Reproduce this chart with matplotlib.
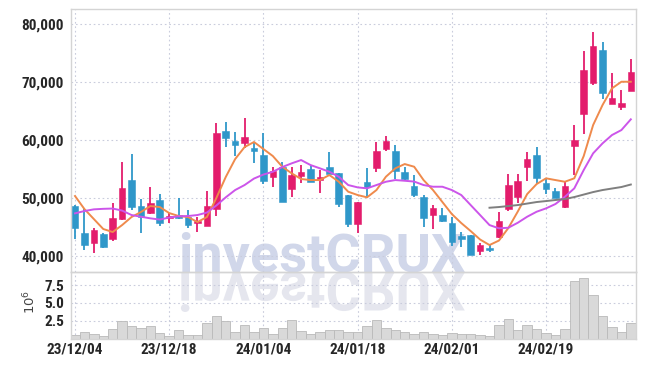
import numpy as np
import matplotlib
matplotlib.use('Agg')
import matplotlib.pyplot as plt
from matplotlib import font_manager as fm
from matplotlib.textpath import TextPath
from matplotlib.patches import PathPatch
from matplotlib.font_manager import FontProperties
from matplotlib.transforms import Affine2D

# daily candles, 23/12/04 .. 24/03/04
opens = [48620, 44020, 42190, 43790, 42880, 46380, 53100, 48620, 47470, 49660,
         46500, 47020, 46670, 45780, 45230, 48160, 61550, 59830, 59430, 58620,
         57410, 53670, 55400, 51500, 53850, 55000, 53100, 55290, 54370, 50520,
         45460, 52760, 55230, 58450, 58100, 54540, 52070, 50120, 47020, 47070,
         45640, 43450, 43620, 40920, 41440, 43330, 48050, 50120, 55290, 57410,
         52530, 51210, 48500, 59020, 64430, 69780, 75520, 66260, 65740, 68500]
highs = [48800, 48280, 44780, 43970, 49090, 56160, 57590, 49780, 51950, 50690,
         47360, 49950, 47930, 46670, 51210, 62880, 63160, 61430, 63740, 59710,
         61160, 55400, 56260, 55290, 55690, 55630, 54830, 57880, 54400, 50520,
         49300, 55120, 59600, 60690, 59140, 55400, 53970, 50520, 48790, 48220,
         46670, 44190, 43620, 42300, 41900, 47640, 54090, 54090, 57880, 58740,
         53220, 51670, 52810, 62530, 75340, 78570, 76840, 71600, 68620, 73910]
lows = [42930, 41040, 40470, 41380, 42640, 46210, 47930, 43910, 47240, 45230,
        45640, 46330, 44780, 44090, 45170, 46900, 58740, 57240, 58570, 55980,
        52410, 51850, 49300, 50120, 52640, 52700, 50910, 54100, 48400, 44950,
        43910, 49950, 54430, 58100, 53220, 53100, 50120, 45060, 44600, 45910,
        41720, 41600, 40170, 40170, 40750, 43050, 47810, 49190, 52990, 52410,
        50690, 49950, 48220, 53970, 61040, 69480, 67070, 66210, 65170, 68400]
closes = [44830, 41900, 44480, 41500, 46550, 51670, 48400, 46670, 49090, 45640,
          46900, 46610, 45340, 45860, 48620, 61160, 60400, 59190, 60520, 58160,
          52930, 54660, 49370, 53970, 54480, 52810, 53670, 54140, 48970, 45520,
          49260, 51950, 58100, 59830, 54710, 53220, 50520, 46500, 48220, 46090,
          42470, 42990, 40170, 41900, 41040, 46040, 52240, 52930, 56670, 53400,
          51500, 49950, 52070, 60000, 72070, 76210, 68050, 67190, 66330, 71780]

# volume in millions
volume = [0.49, 0.87, 0.59, 0.31, 1.29, 2.46, 1.76, 1.43, 1.76, 0.73,
          0.39, 1.15, 0.45, 0.45, 2.13, 3.16, 2.46, 0.91, 1.90, 0.91,
          1.43, 0.63, 1.43, 2.60, 1.05, 0.63, 0.91, 1.15, 1.15, 0.89,
          0.91, 1.76, 2.60, 1.43, 1.19, 0.91, 0.63, 0.91, 0.63, 0.49,
          0.77, 0.63, 0.63, 0.49, 0.35, 1.85, 2.74, 1.19, 1.90, 1.33,
          0.77, 0.49, 1.33, 8.03, 8.45, 6.11, 3.16, 1.62, 0.91, 2.18]

# moving averages
ma_short = [50350, 48100, 46380, 44660, 44140, 45340, 46730, 47590, 48620, 48450,
            47410, 46900, 46730, 45860, 46730, 50000, 53620, 56720, 58790, 59660,
            58450, 57240, 55400, 54260, 53280, 53100, 53100, 53970, 52810, 51090,
            50520, 50120, 51380, 53670, 55120, 55860, 55400, 53100, 51380, 49310,
            47240, 45690, 44310, 42850, 41900, 42670, 44830, 47670, 50690, 52410,
            53400, 53100, 52810, 53400, 57240, 62590, 66040, 68910, 70050, 70050]
ma_mid = [47360, 47760, 48050, 48140, 48190, 47840, 47070, 46780, 46500, 46290,
          46640, 46850, 46900, 47070, 47500, 48710, 50120, 51380, 52240, 53360,
          54050, 54530, 55340, 55980, 56550, 55690, 55120, 54530, 53670, 52240,
          51840, 51670, 52240, 52810, 53100, 52980, 52840, 52240, 51950, 51950,
          51380, 50520, 48790, 47070, 45340, 44780, 44880, 45740, 46780, 47640,
          48220, 48970, 50220, 51670, 54830, 57710, 59430, 60860, 61720, 63570]
ma_long_start = 44
ma_long = [48330, 48450, 48620, 48790, 49050, 49310, 49480, 49660,
           49830, 50170, 50600, 51030, 51380, 51640, 51900, 52330]

tick_idx = [0, 10, 20, 30, 40, 50]
tick_labels = ['23/12/04', '23/12/18', '24/01/04', '24/01/18', '24/02/01', '24/02/19']
price_ticks = [40000, 50000, 60000, 70000, 80000]
vol_ticks = [2.5, 5.0, 7.5]

UP = '#e31c6c'
DOWN = '#2f97c9'
GRID = '#c9ccdc'
FRAME = '#d4d4d4'
TXT = '#262626'

# narrow bold font for the tick labels, whatever is installed
names = {f.name for f in fm.fontManager.ttflist}
if 'Roboto Condensed' in names:
    tick_font, tick_size = 'Roboto Condensed', 11
elif 'Liberation Sans Narrow' in names:
    tick_font, tick_size = 'Liberation Sans Narrow', 11
else:
    tick_font, tick_size = 'Roboto', 10

fig = plt.figure(figsize=(6.45, 3.66), dpi=100)
fig.patch.set_facecolor('white')
ax = fig.add_axes([71 / 645, 1 - 272 / 366, 565 / 645, 263 / 366])
axv = fig.add_axes([71 / 645, 1 - 338.5 / 366, 565 / 645, 66.5 / 366])

x = np.arange(len(opens))
o = np.array(opens)
c = np.array(closes)
colors = np.where(c >= o, UP, DOWN)

# watermark (real text) + its mirrored reflection
wm_pt = 39
wm_px = wm_pt * 100 / 72
wm_x, wm_base = 178, 366 - 272
fig.text(wm_x / 645, wm_base / 366, 'investCRUX', family='Roboto', weight='bold',
         fontsize=wm_pt, color='#d1d7ea', ha='left', va='baseline', zorder=-1)
tp = TextPath((0, 0), 'investCRUX', size=wm_px,
              prop=FontProperties(family='Roboto', weight='bold'))
fig.add_artist(PathPatch(tp, transform=Affine2D().scale(1, -1).translate(wm_x, wm_base),
                         facecolor='#e5e6ee', edgecolor='none', zorder=-1))

for a in (ax, axv):
    a.set_facecolor('none')
    a.set_xlim(-0.425, 59.55)
    a.set_xticks(tick_idx)
    a.grid(True, color=GRID, linestyle=(0, (1.5, 2.5)), linewidth=0.8)
    a.set_axisbelow(True)
    a.tick_params(length=0, pad=5, labelcolor=TXT)
    for s in a.spines.values():
        s.set_color(FRAME)
        s.set_linewidth(1.0)

# candles
ax.vlines(x, lows, highs, colors=colors, linewidth=1.3, zorder=2)
body_low = np.minimum(o, c)
body_h = np.maximum(np.abs(c - o), 180)
ax.bar(x, body_h, bottom=body_low, width=0.7, color=colors,
       edgecolor=colors, linewidth=0.4, zorder=3)

ax.plot(x, ma_short, color='#ef8a4c', linewidth=1.4, zorder=4)
ax.plot(x, ma_mid, color='#cc55ea', linewidth=1.4, zorder=4)
ax.plot(x[ma_long_start:], ma_long, color='#7f7f7f', linewidth=1.4, zorder=4)

ax.set_ylim(37250, 82590)
ax.set_yticks(price_ticks)
ax.set_yticklabels([f'{v:,}' for v in price_ticks], family=tick_font,
                   weight='bold', fontsize=tick_size)
ax.set_xticklabels([])

axv.bar(x, volume, width=1.0, color='#d9d9d9', edgecolor='#b9b9b9',
        linewidth=0.6, zorder=2)
axv.set_ylim(0, 9.34)
axv.set_yticks(vol_ticks)
axv.set_yticklabels([f'{v:.1f}' for v in vol_ticks], family=tick_font,
                    weight='bold', fontsize=tick_size)
axv.set_xticklabels(tick_labels, family=tick_font, weight='bold', fontsize=tick_size)
axv.tick_params(axis='x', pad=3)

fig.text(30 / 645, 1 - 302 / 366, r'$10^6$', rotation=90, ha='center',
         va='center', fontsize=9.5, color='#444444')

fig.savefig('out.png', dpi=100)
